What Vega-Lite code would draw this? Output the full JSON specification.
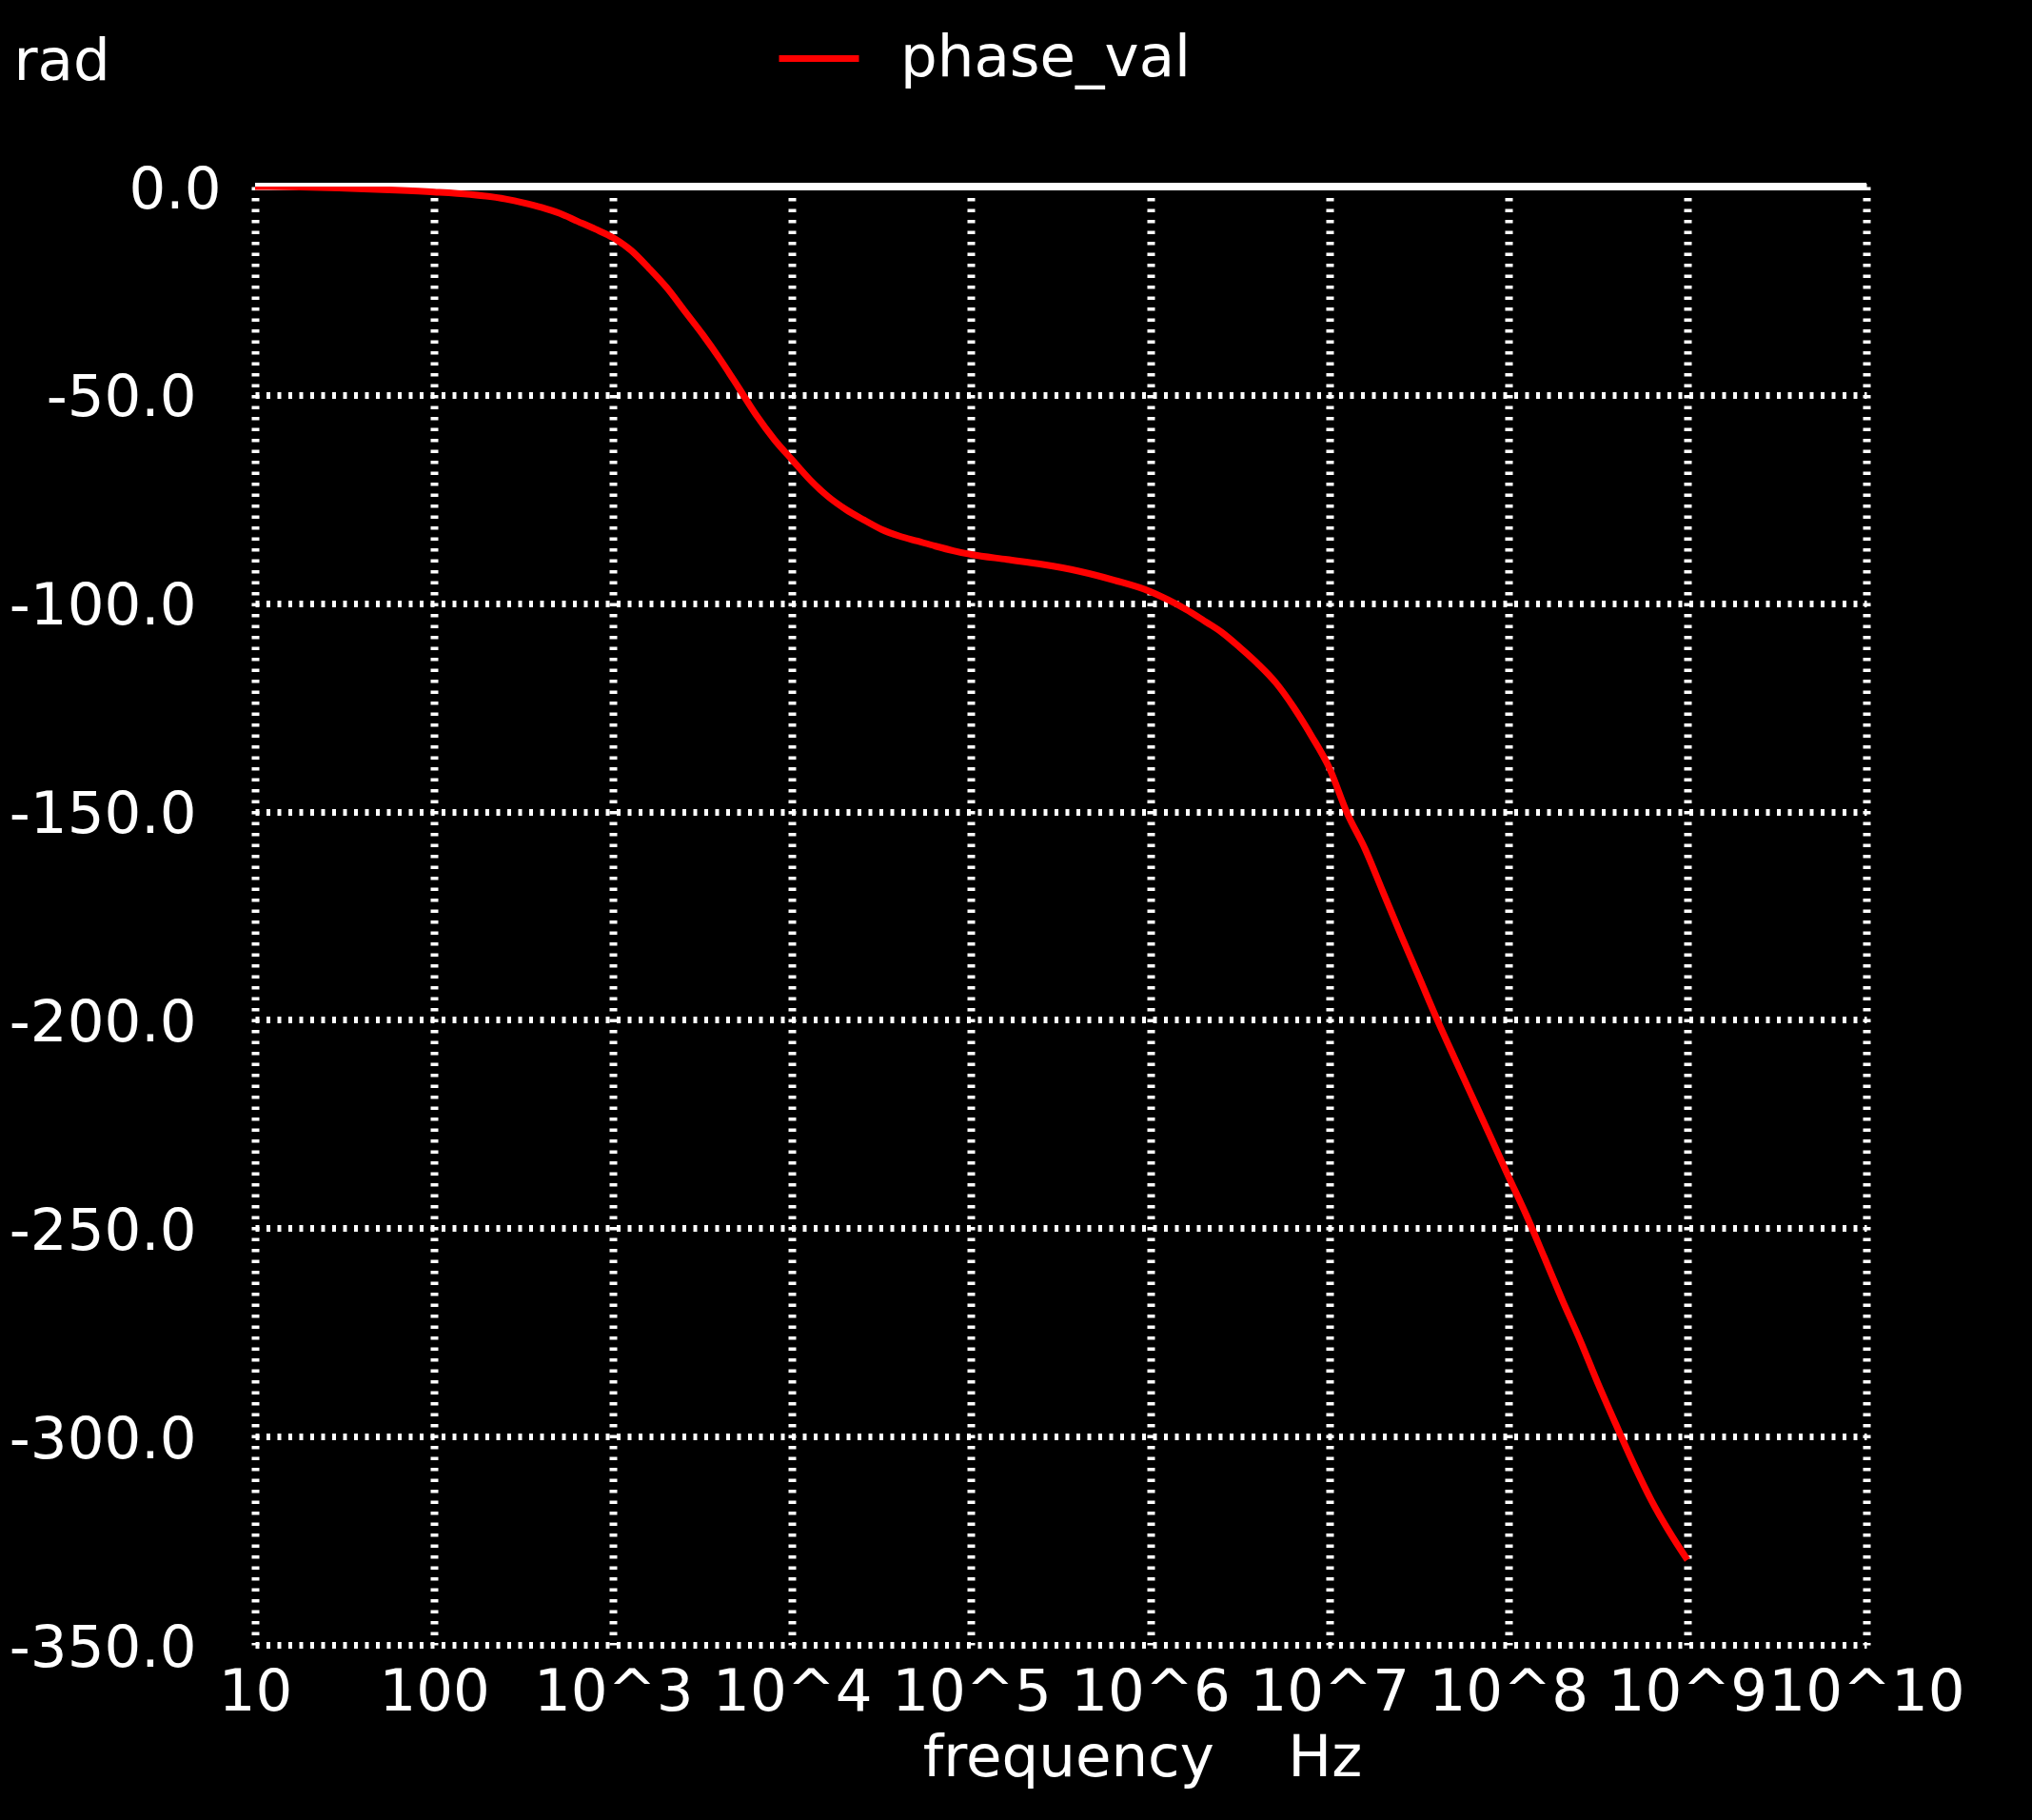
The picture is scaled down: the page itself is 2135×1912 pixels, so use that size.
{
  "$schema": "https://vega.github.io/schema/vega-lite/v6.json",
  "width": 1693,
  "height": 1532,
  "autosize": "none",
  "padding": {"left": 268, "top": 196, "right": 174, "bottom": 184},
  "background": "#000000",
  "config": {"view": {"stroke": null}, "font": "DejaVu Sans"},
  "layer": [
    {
      "data": {"values": [{"ref": 0}]},
      "mark": {"type": "rule", "color": "#ffffff", "strokeWidth": 8},
      "encoding": {
        "y": {"field": "ref", "type": "quantitative", "scale": {"domain": [-350, 0], "nice": false, "zero": false}}
      }
    },
    {
      "data": {"values": [
        {"frequency": 10, "phase": 0},
        {"frequency": 17.78, "phase": -0.1},
        {"frequency": 31.62, "phase": -0.4},
        {"frequency": 56.23, "phase": -0.8},
        {"frequency": 100, "phase": -1.3},
        {"frequency": 158.5, "phase": -1.9},
        {"frequency": 251.2, "phase": -3.0},
        {"frequency": 316.2, "phase": -3.9},
        {"frequency": 398.1, "phase": -5.0},
        {"frequency": 501.2, "phase": -6.4},
        {"frequency": 631.0, "phase": -8.3},
        {"frequency": 794.3, "phase": -10.2},
        {"frequency": 1000, "phase": -12.3},
        {"frequency": 1259, "phase": -15.3},
        {"frequency": 1585, "phase": -19.6},
        {"frequency": 1995, "phase": -24.3},
        {"frequency": 2512, "phase": -29.9},
        {"frequency": 3162, "phase": -35.5},
        {"frequency": 3981, "phase": -41.6},
        {"frequency": 5012, "phase": -48.2},
        {"frequency": 6310, "phase": -54.9},
        {"frequency": 7943, "phase": -60.7},
        {"frequency": 10000, "phase": -65.6},
        {"frequency": 12589, "phase": -70.4},
        {"frequency": 15849, "phase": -74.4},
        {"frequency": 19953, "phase": -77.5},
        {"frequency": 25119, "phase": -80.0},
        {"frequency": 31623, "phase": -82.3},
        {"frequency": 39811, "phase": -83.9},
        {"frequency": 50119, "phase": -85.1},
        {"frequency": 63096, "phase": -86.3},
        {"frequency": 79433, "phase": -87.4},
        {"frequency": 100000, "phase": -88.3},
        {"frequency": 158489, "phase": -89.5},
        {"frequency": 251189, "phase": -90.7},
        {"frequency": 398107, "phase": -92.3},
        {"frequency": 630957, "phase": -94.5},
        {"frequency": 1000000, "phase": -97.2},
        {"frequency": 1258925, "phase": -99.2},
        {"frequency": 1584893, "phase": -101.5},
        {"frequency": 1995262, "phase": -104.2},
        {"frequency": 2511886, "phase": -107.0},
        {"frequency": 3162278, "phase": -110.6},
        {"frequency": 3981072, "phase": -114.5},
        {"frequency": 5011872, "phase": -119.0},
        {"frequency": 6309573, "phase": -124.9},
        {"frequency": 7943282, "phase": -131.8},
        {"frequency": 10000000, "phase": -139.5},
        {"frequency": 12589254, "phase": -150.4},
        {"frequency": 15848932, "phase": -159.0},
        {"frequency": 19952623, "phase": -169.3},
        {"frequency": 25118864, "phase": -179.6},
        {"frequency": 31622777, "phase": -189.6},
        {"frequency": 39810717, "phase": -199.7},
        {"frequency": 50118723, "phase": -209.2},
        {"frequency": 63095734, "phase": -218.6},
        {"frequency": 79432823, "phase": -228.0},
        {"frequency": 100000000, "phase": -237.5},
        {"frequency": 125892541, "phase": -246.8},
        {"frequency": 158489319, "phase": -256.9},
        {"frequency": 199526231, "phase": -267.1},
        {"frequency": 251188643, "phase": -276.8},
        {"frequency": 316227766, "phase": -287.2},
        {"frequency": 398107171, "phase": -297.0},
        {"frequency": 501187234, "phase": -306.6},
        {"frequency": 630957344, "phase": -315.4},
        {"frequency": 794328235, "phase": -322.9},
        {"frequency": 1000000000, "phase": -329.6}
      ]},
      "mark": {"type": "line", "strokeWidth": 7, "interpolate": "monotone", "clip": true},
      "encoding": {
        "x": {
          "field": "frequency",
          "type": "quantitative",
          "scale": {"type": "log", "domain": [10, 10000000000], "nice": false},
          "axis": {
            "title": "frequency\u00a0\u00a0\u00a0\u00a0Hz",
            "values": [10, 100, 1000, 10000, 100000, 1000000, 10000000, 100000000, 1000000000, 10000000000],
            "labelExpr": "datum.value == 10 ? '10' : datum.value == 100 ? '100' : '10^' + round(log(datum.value) / LN10)",
            "labelFont": "DejaVu Sans",
            "labelFontSize": 61,
            "labelColor": "#ffffff",
            "labelPadding": 20,
            "labelLimit": 0,
            "labelFlush": false,
            "labelOverlap": false,
            "labelBound": false,
            "ticks": false,
            "domain": false,
            "grid": true,
            "gridColor": "#ffffff",
            "gridOpacity": 1,
            "gridWidth": 8,
            "gridDash": [3.5, 8],
            "titleFont": "DejaVu Sans",
            "titleFontSize": 61,
            "titleFontWeight": "normal",
            "titleColor": "#ffffff",
            "titleLimit": 0,
            "titleX": 932,
            "titleY": 137,
            "titleAlign": "center",
            "titleBaseline": "alphabetic"
          }
        },
        "y": {
          "field": "phase",
          "type": "quantitative",
          "scale": {"domain": [-350, 0], "nice": false, "zero": false},
          "axis": {
            "title": "rad",
            "values": [-350, -300, -250, -200, -150, -100, -50, 0],
            "labelExpr": "datum.value == 0 ? '0.0' : '-' + format(-datum.value, '.1f')",
            "labelFont": "DejaVu Sans",
            "labelFontSize": 61,
            "labelColor": "#ffffff",
            "labelLimit": 0,
            "labelPadding": {"condition": {"test": "datum.value == 0", "value": 36}, "value": 62},
            "labelOffset": 4,
            "labelOverlap": false,
            "labelBound": false,
            "labelFlush": false,
            "ticks": false,
            "domain": false,
            "grid": true,
            "gridColor": "#ffffff",
            "gridOpacity": 1,
            "gridWidth": 7,
            "gridDash": [4, 7.5],
            "titleFont": "DejaVu Sans",
            "titleFontSize": 61,
            "titleFontWeight": "normal",
            "titleColor": "#ffffff",
            "titleAngle": 0,
            "titleX": -254,
            "titleY": -113,
            "titleAlign": "left",
            "titleBaseline": "alphabetic"
          }
        },
        "color": {
          "datum": "phase_val",
          "type": "nominal",
          "scale": {"range": ["#ff0000"]},
          "legend": {
            "orient": "none",
            "legendX": 547,
            "legendY": -180,
            "title": null,
            "padding": 0,
            "symbolType": "stroke",
            "symbolSize": 7056,
            "symbolStrokeWidth": 7,
            "labelFont": "DejaVu Sans",
            "labelFontSize": 61,
            "labelColor": "#ffffff",
            "labelLimit": 0,
            "labelOffset": 40
          }
        }
      }
    }
  ]
}
